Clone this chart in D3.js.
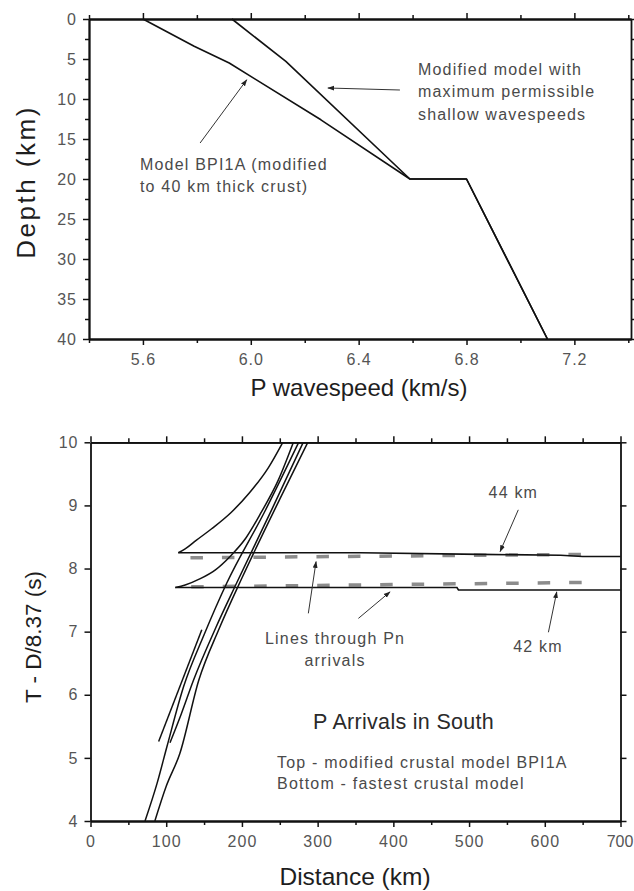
<!DOCTYPE html>
<html>
<head>
<meta charset="utf-8">
<script src="https://cdn.jsdelivr.net/npm/d3@7/dist/d3.min.js"></script>
<style>
  html, body { margin: 0; padding: 0; background: #fff; }
  svg { display: block; font-family: "Liberation Sans", Arial, sans-serif; }
  .tick text { fill: #555; font-size: 16px; letter-spacing: 1px; }
  .ann { fill: #4a4a4a; font-size: 16px; letter-spacing: 1.2px; }
  .title { fill: #1e1e1e; font-size: 24px; }
</style>
</head>
<body>
<svg id="chart" width="634" height="891"></svg>
<script>
// ---------------- Top panel data: velocity models ----------------
const velTicksMajor = [5.6, 6.0, 6.4, 6.8, 7.2];
const velTicksMinor = [5.4, 5.8, 6.2, 6.6, 7.0, 7.4];
const depthTicksMajor = [0, 5, 10, 15, 20, 25, 30, 35, 40];
const depthTicksMinor = [2.5, 7.5, 12.5, 17.5, 22.5, 27.5, 32.5, 37.5];

const bpi1aVel   = [5.6, 5.79, 5.92, 6.26, 6.59, 6.8, 7.1];
const bpi1aDepth = [0, 3.4, 5.5, 12.6, 20, 20, 40];
const fastVel    = [5.93, 6.13, 6.59, 6.8, 7.1];
const fastDepth  = [0, 5.3, 20, 20, 40];

const topLabels = [
  { text: "Modified model with", v: 6.62, z: 7.0 },
  { text: "maximum permissible", v: 6.62, z: 9.75 },
  { text: "shallow wavespeeds", v: 6.62, z: 12.6 },
  { text: "Model BPI1A (modified", v: 5.589, z: 18.9 },
  { text: "to 40 km thick crust)", v: 5.589, z: 21.6 }
];
const topArrows = [
  { v0: 6.553, z0: 8.875, v1: 6.286, z1: 8.625 },
  { v0: 5.812, z0: 15.5, v1: 5.985, z1: 7.6 }
];

// ---------------- Bottom panel data: reduced travel times ----------------
const distTicksMajor = [0, 100, 200, 300, 400, 500, 600, 700];
const distTicksMinor = [50, 150, 250, 350, 450, 550, 650];
const timeTicks = [4, 5, 6, 7, 8, 9, 10];

const pn44Dist = [116, 357, 515, 621, 650, 700];
const pn44Time = [8.25, 8.25, 8.225, 8.21, 8.19, 8.19];
const pn42Dist = [112, 484, 486, 700];
const pn42Time = [7.70, 7.70, 7.66, 7.66];
const fit44Dist = [132, 657];
const fit44Time = [8.17, 8.225];
const fit42Dist = [133, 654];
const fit42Time = [7.71, 7.78];

const refl44Dist = [116, 125, 140, 160, 185, 210, 235, 254];
const refl44Time = [8.25, 8.31, 8.45, 8.63, 8.88, 9.2, 9.6, 10];
const refl42Dist = [112, 125, 145, 165, 185, 205, 225, 248, 268];
const refl42Time = [7.70, 7.74, 7.84, 7.98, 8.2, 8.48, 8.88, 9.4, 10];

const pg1Dist = [72, 88, 101, 123, 150, 180, 230, 275];
const pg1Time = [4, 4.6, 5.18, 6.13, 6.95, 7.77, 8.9, 10];
const pg2Dist = [85, 100, 118, 143, 170, 200, 250, 287];
const pg2Time = [4, 4.55, 5.07, 6.23, 7.05, 7.85, 9.1, 10];
const pg3Dist = [105, 120, 136, 165, 193, 240, 281];
const pg3Time = [5.24, 5.7, 6.23, 7.05, 7.77, 8.95, 10];
const pg4Dist = [90, 147];
const pg4Time = [5.26, 7.03];

const botLabels = [
  { text: "44 km", d: 558.5, t: 9.12, anchor: "middle", cls: "ann" },
  { text: "42 km", d: 591, t: 6.68, anchor: "middle", cls: "ann" },
  { text: "Lines through Pn", d: 323, t: 6.80, anchor: "middle", cls: "ann" },
  { text: "arrivals", d: 323, t: 6.46, anchor: "middle", cls: "ann" },
  { text: "P Arrivals in South", d: 294, t: 5.45, anchor: "start", cls: "big" },
  { text: "Top - modified crustal model BPI1A", d: 246.4, t: 4.84, anchor: "start", cls: "ann" },
  { text: "Bottom - fastest crustal model", d: 246.4, t: 4.51, anchor: "start", cls: "ann" }
];
const botArrows = [
  { d0: 565, t0: 8.93, d1: 541, t1: 8.27 },
  { d0: 604.8, t0: 6.99, d1: 615.8, t1: 7.63 },
  { d0: 287.7, t0: 7.29, d1: 297.9, t1: 8.11 },
  { d0: 353.8, t0: 7.21, d1: 395.6, t1: 7.63 }
];

// ---------------- Drawing ----------------
const svg = d3.select("#chart");
const defs = svg.append("defs");
defs.append("marker").attr("id", "arr").attr("viewBox", "0 0 10 10")
  .attr("refX", 9).attr("refY", 5).attr("markerWidth", 7).attr("markerHeight", 7)
  .attr("markerUnits", "userSpaceOnUse").attr("orient", "auto")
  .append("path").attr("d", "M0,1.5 L10,5 L0,8.5 Z").attr("fill", "#222");

function styleAxis(g) {
  g.select(".domain").attr("stroke", "#111").attr("stroke-width", 1.8);
  g.selectAll(".tick line").attr("stroke", "#111").attr("stroke-width", 1.5);
}
function zipPts(a, b) { return a.map((v, i) => [v, b[i]]); }

// ---- Top panel ----
const x1 = d3.scaleLinear().domain([5.4, 7.41]).range([89, 631]);
const y1 = d3.scaleLinear().domain([0, 40]).range([19, 339]);
const topG = svg.append("g");

topG.append("g").attr("transform", `translate(0,${y1(40)})`)
  .call(d3.axisBottom(x1).tickValues(velTicksMajor).tickSize(6).tickSizeOuter(0).tickPadding(9).tickFormat(d3.format(".1f")))
  .call(styleAxis);
topG.append("g").attr("transform", `translate(0,${y1(40)})`)
  .call(d3.axisBottom(x1).tickValues(velTicksMinor.filter(v => v < 7.41)).tickSize(4).tickSizeOuter(0).tickFormat(""))
  .call(styleAxis);
topG.append("g").attr("transform", `translate(0,${y1(0)})`)
  .call(d3.axisTop(x1).tickValues(velTicksMajor).tickSize(6).tickSizeOuter(0).tickFormat(""))
  .call(styleAxis);
topG.append("g").attr("transform", `translate(0,${y1(0)})`)
  .call(d3.axisTop(x1).tickValues(velTicksMinor.filter(v => v < 7.41)).tickSize(4).tickSizeOuter(0).tickFormat(""))
  .call(styleAxis);
topG.append("g").attr("transform", `translate(${x1(5.4)},0)`)
  .call(d3.axisLeft(y1).tickValues(depthTicksMajor).tickSize(6).tickSizeOuter(0).tickPadding(6))
  .call(styleAxis);
topG.append("g").attr("transform", `translate(${x1(5.4)},0)`)
  .call(d3.axisLeft(y1).tickValues(depthTicksMinor).tickSize(4).tickSizeOuter(0).tickFormat(""))
  .call(styleAxis);
topG.append("g").attr("transform", `translate(${x1(7.41)},0)`)
  .call(d3.axisRight(y1).tickValues(depthTicksMajor.concat(depthTicksMinor)).tickSize(4).tickSizeOuter(0).tickFormat(""))
  .call(styleAxis);

const lineTop = d3.line().x(d => x1(d[0])).y(d => y1(d[1]));
[zipPts(bpi1aVel, bpi1aDepth), zipPts(fastVel, fastDepth)].forEach(p => {
  topG.append("path").attr("d", lineTop(p)).attr("fill", "none")
    .attr("stroke", "#111").attr("stroke-width", 1.6).attr("stroke-linejoin", "round");
});

topG.selectAll("text.lab").data(topLabels).enter().append("text")
  .attr("class", "ann").attr("x", d => x1(d.v)).attr("y", d => y1(d.z)).text(d => d.text);
topG.selectAll("line.arr").data(topArrows).enter().append("line")
  .attr("x1", d => x1(d.v0)).attr("y1", d => y1(d.z0))
  .attr("x2", d => x1(d.v1)).attr("y2", d => y1(d.z1))
  .attr("stroke", "#333").attr("stroke-width", 1).attr("marker-end", "url(#arr)");

topG.append("text").attr("class", "title").attr("text-anchor", "middle")
  .attr("x", 359).attr("y", 396).text("P wavespeed (km/s)");
topG.append("text").attr("class", "title").attr("text-anchor", "middle")
  .style("font-size", "26px").style("letter-spacing", "2.5px")
  .attr("transform", "translate(35,182) rotate(-90)").text("Depth (km)");

// ---- Bottom panel ----
const x2 = d3.scaleLinear().domain([0, 700]).range([90.5, 620.5]);
const y2 = d3.scaleLinear().domain([4, 10]).range([821, 442.3]);
const botG = svg.append("g");

const xb = botG.append("g").attr("transform", `translate(0,${y2(4)})`)
  .call(d3.axisBottom(x2).tickValues(distTicksMajor).tickSize(6).tickSizeOuter(0).tickPadding(9))
  .call(styleAxis);
xb.selectAll(".tick text").filter(d => d === 700)
  .style("letter-spacing", "0px").attr("dx", -1);
botG.append("g").attr("transform", `translate(0,${y2(4)})`)
  .call(d3.axisBottom(x2).tickValues(distTicksMinor).tickSize(4).tickSizeOuter(0).tickFormat(""))
  .call(styleAxis);
botG.append("g").attr("transform", `translate(0,${y2(10)})`)
  .call(d3.axisTop(x2).tickValues(distTicksMajor).tickSize(6).tickSizeOuter(0).tickFormat(""))
  .call(styleAxis);
botG.append("g").attr("transform", `translate(0,${y2(10)})`)
  .call(d3.axisTop(x2).tickValues(distTicksMinor).tickSize(4).tickSizeOuter(0).tickFormat(""))
  .call(styleAxis);
botG.append("g").attr("transform", `translate(${x2(0)},0)`)
  .call(d3.axisLeft(y2).tickValues(timeTicks).tickSize(6).tickSizeOuter(0).tickPadding(6).tickFormat(d3.format("d")))
  .call(styleAxis);
botG.append("g").attr("transform", `translate(${x2(700)},0)`)
  .call(d3.axisRight(y2).tickValues(timeTicks).tickSize(6).tickSizeOuter(0).tickFormat(""))
  .call(styleAxis);

const lineBot = d3.line().x(d => x2(d[0])).y(d => y2(d[1]));
const lineBotCurve = d3.line().x(d => x2(d[0])).y(d => y2(d[1])).curve(d3.curveMonotoneX);

// dashed Pn fits (grey)
[zipPts(fit44Dist, fit44Time), zipPts(fit42Dist, fit42Time)].forEach(p => {
  botG.append("path").attr("d", lineBot(p)).attr("fill", "none")
    .attr("stroke", "#8c8c8c").attr("stroke-width", 3.5).attr("stroke-dasharray", "12.5,19");
});
// solid Pn branches
[zipPts(pn44Dist, pn44Time), zipPts(pn42Dist, pn42Time)].forEach(p => {
  botG.append("path").attr("d", lineBot(p)).attr("fill", "none")
    .attr("stroke", "#111").attr("stroke-width", 1.6);
});
// reflections
[zipPts(refl44Dist, refl44Time), zipPts(refl42Dist, refl42Time)].forEach(p => {
  botG.append("path").attr("d", lineBotCurve(p)).attr("fill", "none")
    .attr("stroke", "#111").attr("stroke-width", 1.5);
});
// crustal branches
[zipPts(pg1Dist, pg1Time), zipPts(pg2Dist, pg2Time), zipPts(pg3Dist, pg3Time), zipPts(pg4Dist, pg4Time)].forEach(p => {
  botG.append("path").attr("d", lineBotCurve(p)).attr("fill", "none")
    .attr("stroke", "#111").attr("stroke-width", 1.5);
});

botG.selectAll("text.lab").data(botLabels).enter().append("text")
  .attr("class", d => d.cls === "ann" ? "ann" : null)
  .attr("x", d => x2(d.d)).attr("y", d => y2(d.t))
  .attr("text-anchor", d => d.anchor)
  .style("font-size", d => d.cls === "big" ? "21.5px" : null)
  .style("letter-spacing", d => d.cls === "big" ? "0.3px" : null)
  .style("fill", d => d.cls === "big" ? "#2a2a2a" : null)
  .text(d => d.text);
botG.selectAll("line.arr").data(botArrows).enter().append("line")
  .attr("x1", d => x2(d.d0)).attr("y1", d => y2(d.t0))
  .attr("x2", d => x2(d.d1)).attr("y2", d => y2(d.t1))
  .attr("stroke", "#333").attr("stroke-width", 1).attr("marker-end", "url(#arr)");

botG.append("text").attr("class", "title").attr("text-anchor", "middle")
  .style("font-size", "24.5px").attr("x", 355).attr("y", 885).text("Distance (km)");
botG.append("text").attr("class", "title").attr("text-anchor", "middle")
  .style("font-size", "22.5px")
  .attr("transform", "translate(41,637) rotate(-90)").text("T - D/8.37 (s)");
</script>
</body>
</html>
